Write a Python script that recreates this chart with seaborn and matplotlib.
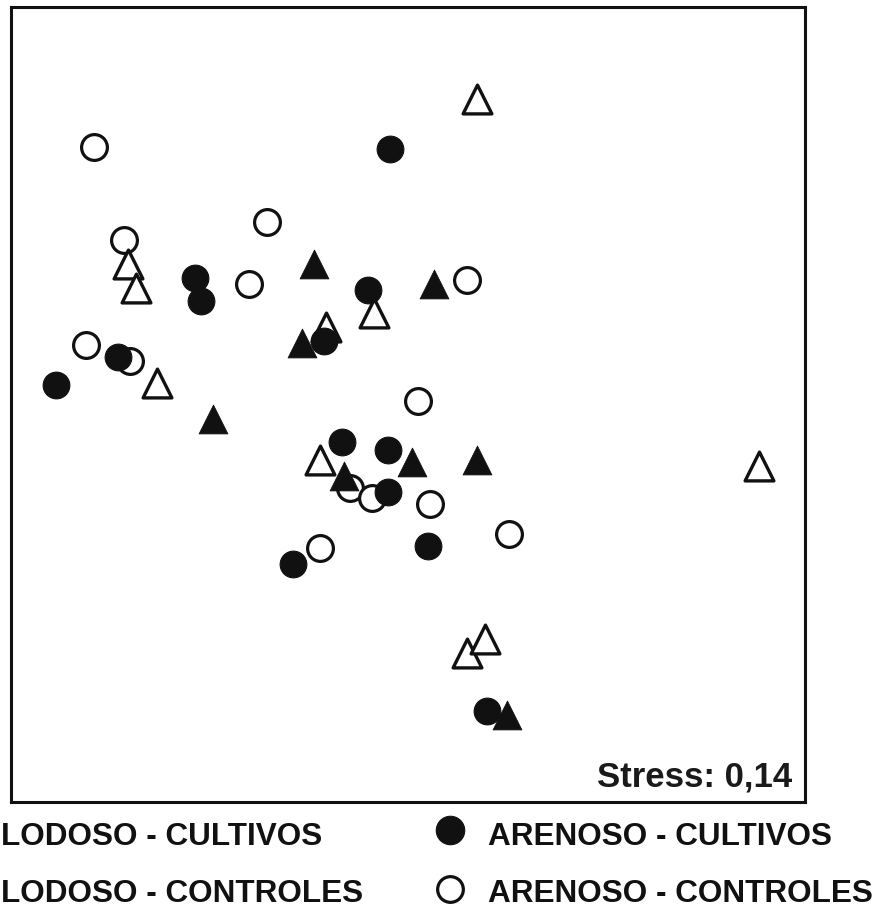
import numpy as np
import pandas as pd
import matplotlib
matplotlib.use("Agg")
import matplotlib.pyplot as plt
import seaborn as sns

# NMDS coordinates
arenoso_controles_x = [-1.58, -1.43, -0.71, -0.80, 0.30, -1.62, -1.40, 0.05, -0.29, -0.18, 0.11, 0.51, -0.44]
arenoso_controles_y = [1.30, 0.83, 0.92, 0.61, 0.63, 0.30, 0.22, 0.02, -0.42, -0.47, -0.50, -0.65, -0.72]

lodoso_controles_x = [0.35, -1.41, -1.37, -0.41, -0.17, -1.26, -0.44, 1.77, 0.30, 0.39]
lodoso_controles_y = [1.54, 0.71, 0.59, 0.39, 0.46, 0.11, -0.28, -0.31, -1.25, -1.18]

arenoso_cultivos_x = [-0.09, -1.07, -1.04, -0.20, -1.46, -1.77, -0.42, -0.33, -0.10, -0.10, 0.10, -0.58, 0.40]
arenoso_cultivos_y = [1.29, 0.64, 0.52, 0.58, 0.24, 0.10, 0.32, -0.19, -0.23, -0.44, -0.71, -0.80, -1.54]

lodoso_cultivos_x = [-0.47, 0.13, -0.53, -0.98, -0.32, 0.02, 0.35, 0.50]
lodoso_cultivos_y = [0.71, 0.61, 0.31, -0.07, -0.36, -0.29, -0.28, -1.56]

stress = "0,14"

groups = [
    ("ARENOSO - CONTROLES", arenoso_controles_x, arenoso_controles_y),
    ("LODOSO - CONTROLES", lodoso_controles_x, lodoso_controles_y),
    ("ARENOSO - CULTIVOS", arenoso_cultivos_x, arenoso_cultivos_y),
    ("LODOSO - CULTIVOS", lodoso_cultivos_x, lodoso_cultivos_y),
]
df = pd.concat(
    [pd.DataFrame({"NMDS1": gx, "NMDS2": gy, "grupo": name}) for name, gx, gy in groups],
    ignore_index=True,
)

# marker, face colour, size, edge width
styles = {
    "ARENOSO - CONTROLES": ("o", "white", 345, 2.3),
    "LODOSO - CONTROLES": ("^", "white", 430, 2.4),
    "ARENOSO - CULTIVOS": ("o", "#111111", 370, 0.8),
    "LODOSO - CULTIVOS": ("^", "#111111", 430, 0.6),
}

sns.set_style("white")
plt.rcParams["font.family"] = ["Liberation Sans", "DejaVu Sans"]

W, H = 884, 909
fig = plt.figure(figsize=(W / 100, H / 100), dpi=100)
ax = fig.add_axes([10.5 / W, (H - 802) / H, 794.5 / W, 794.5 / H])

for name, _, _ in groups:
    m, fc, s, lw = styles[name]
    sns.scatterplot(data=df[df["grupo"] == name], x="NMDS1", y="NMDS2", ax=ax,
                    marker=m, color=fc, edgecolor="#111111", s=s, linewidth=lw,
                    legend=False, zorder=3)

ax.set_xlim(-2, 2)
ax.set_ylim(-2, 2)
ax.set_xticks([])
ax.set_yticks([])
ax.set_xlabel("")
ax.set_ylabel("")
for sp in ax.spines.values():
    sp.set_visible(True)
    sp.set_color("#111111")
    sp.set_linewidth(2.2)

# stress label
fig.text(792 / W, 1 - 787 / H, "Stress: " + stress, ha="right", va="baseline",
         fontsize=25, fontweight="bold", color="#1a1a1a")

# legend below the plot (left-hand symbols are cut off in the original)
txt = dict(fontsize=22.7, fontweight="bold", color="#111111", va="baseline")
fig.text(1 / W, 1 - 845 / H, "LODOSO - CULTIVOS", ha="left", **txt)
fig.text(1 / W, 1 - 902 / H, "LODOSO - CONTROLES", ha="left", **txt)
fig.text(488 / W, 1 - 845 / H, "ARENOSO - CULTIVOS", ha="left", **txt)
fig.text(488 / W, 1 - 902 / H, "ARENOSO - CONTROLES", ha="left", **txt)
fig.lines.append(plt.Line2D([450 / W], [1 - 830 / H], transform=fig.transFigure, marker="o",
                            markersize=20.5, color="#111111", markeredgewidth=0.8))
fig.lines.append(plt.Line2D([450 / W], [1 - 889 / H], transform=fig.transFigure, marker="o",
                            markersize=18.5, markerfacecolor="white", markeredgecolor="#111111",
                            markeredgewidth=2.3))

fig.savefig("out.png", dpi=100, facecolor="white")
